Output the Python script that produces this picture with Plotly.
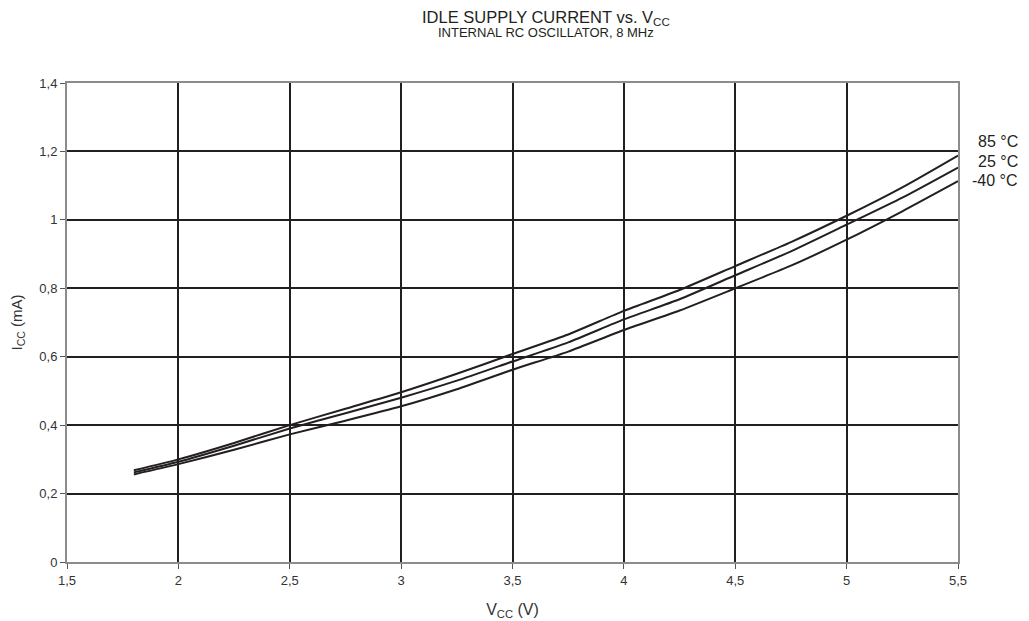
import plotly.graph_objects as go

vcc = [1.8, 2.0, 2.25, 2.5, 2.75, 3.0, 3.25, 3.5, 3.75, 4.0, 4.25, 4.5, 4.75, 5.0, 5.25, 5.5]
icc_85 = [0.268, 0.300, 0.348, 0.400, 0.448, 0.496, 0.550, 0.608, 0.665, 0.734, 0.795, 0.865, 0.935, 1.012, 1.095, 1.188]
icc_25 = [0.262, 0.293, 0.340, 0.390, 0.435, 0.480, 0.530, 0.586, 0.642, 0.709, 0.768, 0.838, 0.908, 0.986, 1.065, 1.153]
icc_m40 = [0.256, 0.286, 0.328, 0.373, 0.413, 0.455, 0.505, 0.562, 0.615, 0.678, 0.735, 0.800, 0.866, 0.942, 1.025, 1.113]
series_names = ["85 °C", "25 °C", "-40 °C"]
label_y = [1.2285, 1.170, 1.1145]

x_tickvals = [1.5, 2, 2.5, 3, 3.5, 4, 4.5, 5, 5.5]
x_ticktext = ["1,5", "2", "2,5", "3", "3,5", "4", "4,5", "5", "5,5"]
y_tickvals = [0, 0.2, 0.4, 0.6, 0.8, 1.0, 1.2, 1.4]
y_ticktext = ["0", "0,2", "0,4", "0,6", "0,8", "1", "1,2", "1,4"]

title_text = "IDLE SUPPLY CURRENT vs. V<sub>CC</sub>"
subtitle_text = "INTERNAL RC OSCILLATOR, 8 MHz"

FONT = "Liberation Sans, Arial, sans-serif"
INK = "#231f20"

fig = go.Figure()
for name, ys in zip(series_names, [icc_85, icc_25, icc_m40]):
    fig.add_trace(go.Scatter(x=vcc, y=ys, mode="lines", name=name,
                             line=dict(color=INK, width=2, shape="spline", smoothing=0.6),
                             showlegend=False))

for name, yv in zip(series_names, label_y):
    fig.add_annotation(x=1.0696, xref="paper", y=yv, yref="y", text=name,
                       showarrow=False, xanchor="right", yanchor="middle",
                       font=dict(family=FONT, size=16, color=INK))

fig.add_annotation(x=0.5376, xref="paper", y=1.1367, yref="paper", text=title_text,
                   showarrow=False, xanchor="center", yanchor="middle",
                   font=dict(family=FONT, size=16.5, color=INK))
fig.add_annotation(x=0.5376, xref="paper", y=1.1044, yref="paper", text=subtitle_text,
                   showarrow=False, xanchor="center", yanchor="middle",
                   font=dict(family=FONT, size=13, color=INK))

fig.update_layout(
    width=1029, height=621,
    margin=dict(l=67, r=71, t=83, b=59),
    paper_bgcolor="white", plot_bgcolor="white",
    font=dict(family=FONT, size=13, color="#333333"),
    xaxis=dict(
        range=[1.5, 5.5], tickvals=x_tickvals, ticktext=x_ticktext,
        showgrid=True, gridcolor=INK, gridwidth=2,
        showline=True, linecolor="#8c8c8c", linewidth=2, mirror=True,
        ticks="outside", ticklen=5, tickcolor="#555555",
        zeroline=False, tickfont=dict(size=13, color="#333333"),
        automargin=False,
        title=dict(text="V<sub>CC</sub> (V)", font=dict(size=16, color="#333333"), standoff=17),
    ),
    yaxis=dict(
        range=[0, 1.4], tickvals=y_tickvals, ticktext=y_ticktext,
        showgrid=True, gridcolor=INK, gridwidth=2,
        showline=True, linecolor="#8c8c8c", linewidth=2, mirror=True,
        ticks="outside", ticklen=5, tickcolor="#555555",
        zeroline=False, tickfont=dict(size=13, color="#333333"),
        automargin=False,
        title=dict(text="I<sub>CC</sub> (mA)", font=dict(size=15, color="#333333"), standoff=13),
    ),
)

fig.write_html("out.html", config={"displayModeBar": False},
               post_script="document.body.style.margin='0px';")
